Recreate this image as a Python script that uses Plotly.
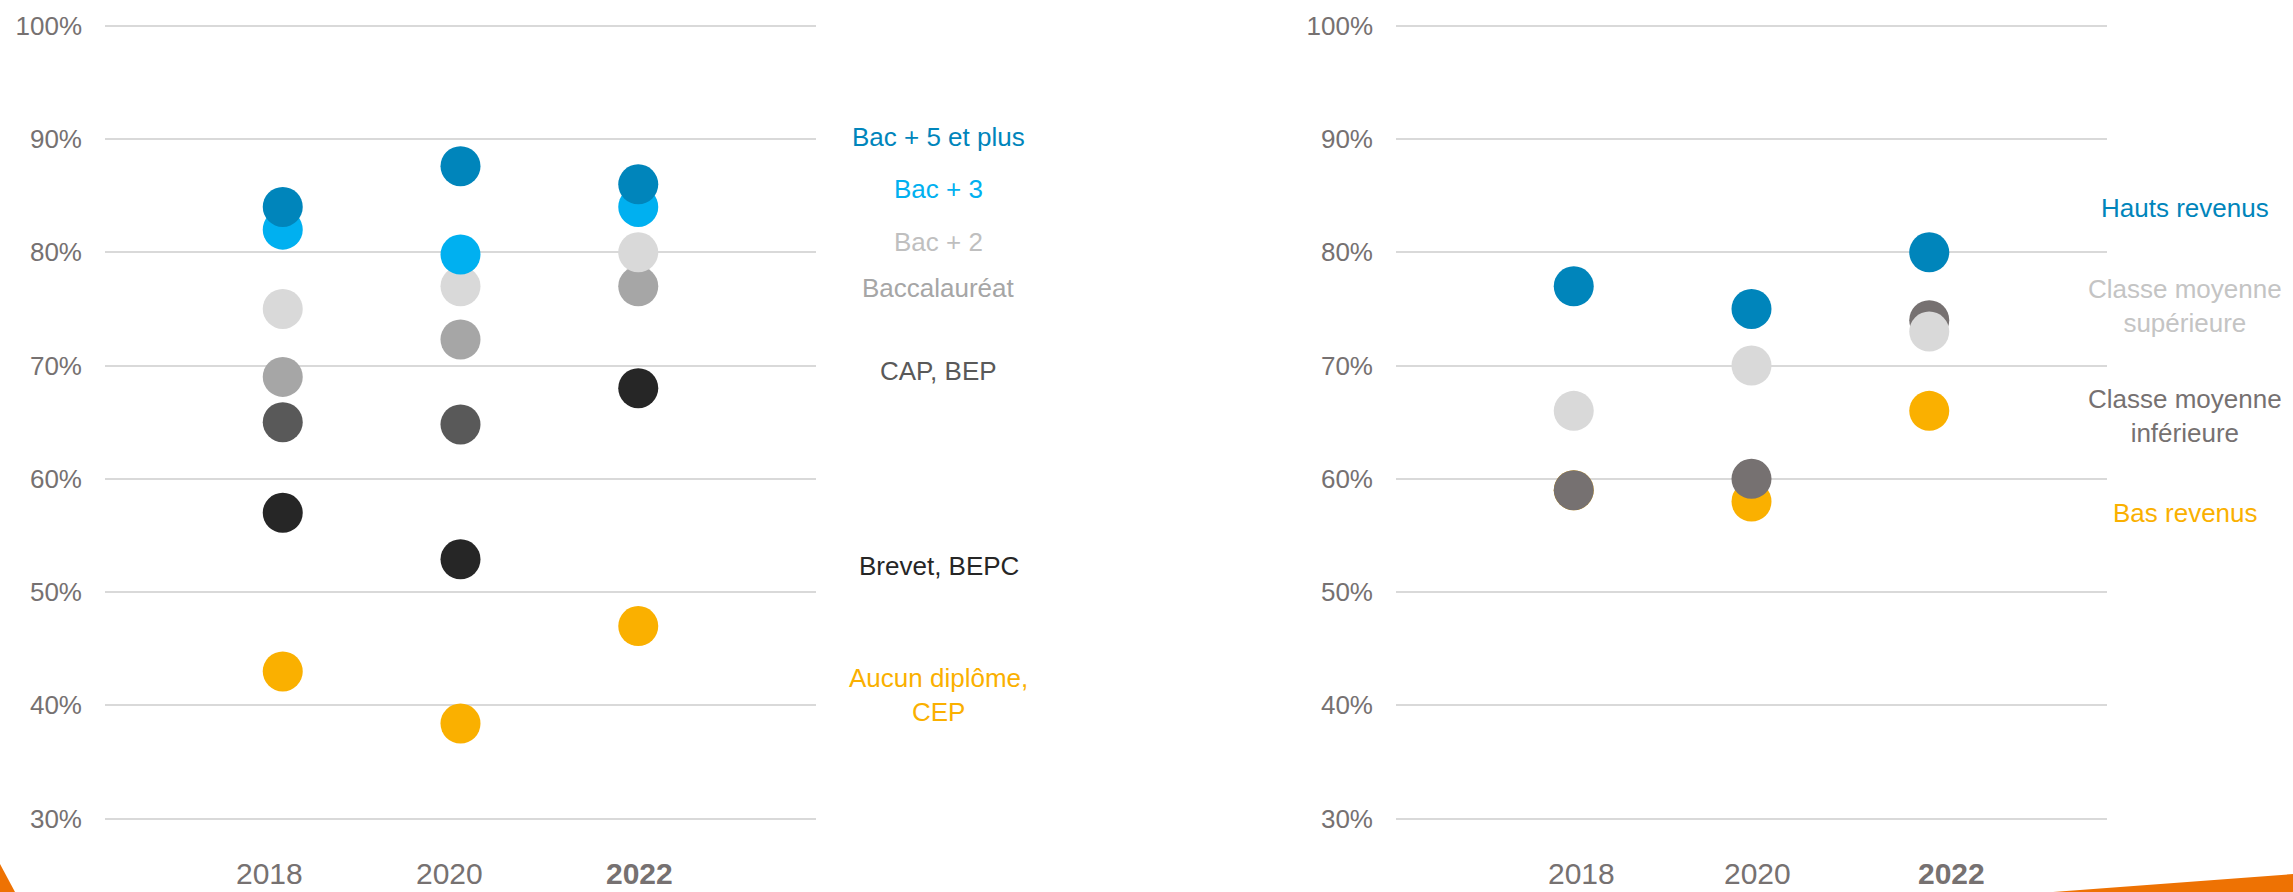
import plotly.graph_objects as go

# ---------------- data ----------------
years = ["2018", "2020", "2022"]

# Left panel: by diploma
diplome_labels = ["Bac + 5 et plus", "Bac + 3", "Bac + 2", "Baccalauréat",
                  "CAP, BEP", "Brevet, BEPC", "Aucun diplôme,<br>CEP"]
bac5 = [84.0, 87.6, 86.0]
bac3 = [82.0, 79.8, 84.0]
bac2 = [75.0, 77.0, 80.0]
baccalaureat = [69.0, 72.3, 77.0]
cap_bep = [65.0, 64.8, None]
brevet = [57.0, 52.9, 68.0]
aucun = [43.0, 38.4, 47.0]

# Right panel: by income
revenu_labels = ["Hauts revenus", "Classe moyenne<br>supérieure",
                 "Classe moyenne<br>inférieure", "Bas revenus"]
hauts = [77.0, 75.0, 80.0]
moy_sup = [66.0, 70.0, 73.0]
moy_inf = [59.0, 60.0, 74.0]
bas = [59.0, 58.0, 66.0]

y_ticks = [30, 40, 50, 60, 70, 80, 90, 100]
y_tick_text = ["30%", "40%", "50%", "60%", "70%", "80%", "90%", "100%"]

# ---------------- styles ----------------
W, H = 2293, 892
FONT = "Arial, Liberation Sans, sans-serif"
TICK_GREY = "#767171"
GRID = "#D9D9D9"

left_series = [bac5, bac3, bac2, baccalaureat, cap_bep, brevet, aucun]
left_colors = ["#0085BB", "#00B0F0", "#D9D9D9", "#A6A6A6", "#595959", "#262626", "#FAB000"]
left_text_colors = ["#0085BB", "#00B0F0", "#BFBFBF", "#A6A6A6", "#595959", "#262626", "#FAB000"]
left_label_y = [90.2, 85.6, 80.9, 76.85, 69.5, 52.35, 40.9]

right_series = [hauts, moy_sup, moy_inf, bas]
right_colors = ["#0085BB", "#D9D9D9", "#767171", "#FAB000"]
right_text_colors = ["#0085BB", "#C4C4C4", "#767171", "#FAB000"]
right_label_y = [83.9, 75.3, 65.55, 57.0]

def px_x(p):
    return p / W

def px_y(p):
    return 1 - p / H

fig = go.Figure()

# draw bottom series first so the upper categories sit on top
for vals, col in reversed(list(zip(left_series, left_colors))):
    fig.add_trace(go.Scatter(x=years, y=vals, mode="markers", xaxis="x", yaxis="y",
                             marker=dict(size=40, color=col, line=dict(width=0)),
                             showlegend=False, hoverinfo="y"))
for vals, col in reversed(list(zip(right_series, right_colors))):
    fig.add_trace(go.Scatter(x=years, y=vals, mode="markers", xaxis="x2", yaxis="y2",
                             marker=dict(size=40, color=col, line=dict(width=0)),
                             showlegend=False, hoverinfo="y"))

y_range = [29, 101]
y_dom = [px_y(830.0), px_y(14.4)]

axis_common_y = dict(range=y_range, domain=y_dom, tickmode="array", tickvals=y_ticks,
                     ticktext=y_tick_text, automargin=False,
                     showgrid=True, gridcolor=GRID, gridwidth=2, zeroline=False,
                     showline=False, ticks="", ticklabelstandoff=22,
                     tickfont=dict(family=FONT, size=26, color=TICK_GREY))
axis_common_x = dict(type="category", categoryorder="array", categoryarray=years,
                     range=[-1, 3], showgrid=False, zeroline=False, showline=False,
                     showticklabels=False, ticks="", automargin=False)

fig.update_layout(
    template="none",
    width=W, height=H,
    margin=dict(l=0, r=0, t=0, b=0, pad=0, autoexpand=False),
    paper_bgcolor="white", plot_bgcolor="white",
    showlegend=False,
    xaxis=dict(domain=[px_x(105), px_x(816)], anchor="y", **axis_common_x),
    yaxis=dict(anchor="x", **axis_common_y),
    xaxis2=dict(domain=[px_x(1396), px_x(2107)], anchor="y2", **axis_common_x),
    yaxis2=dict(anchor="x2", **axis_common_y),
)

annotations = []
# x-axis year labels (placed on the category axis by index)
left_shift = [-13, -11, 1]
right_shift = [8, 6, 22]
for ax, shifts in (("x", left_shift), ("x2", right_shift)):
    for i, (yr, sh) in enumerate(zip(years, shifts)):
        bold = yr == "2022"
        annotations.append(dict(
            x=i, xref=ax, y=px_y(873), yref="paper", xanchor="center", yanchor="middle",
            xshift=sh, showarrow=False,
            text=f"<b>{yr}</b>" if bold else yr,
            font=dict(family=FONT, size=30, color=TICK_GREY)))

# series labels
for lab, col, yy in zip(diplome_labels, left_text_colors, left_label_y):
    annotations.append(dict(x=px_x(939), xref="paper", y=yy, yref="y", xanchor="center",
                            yanchor="middle", showarrow=False, text=lab, align="center",
                            font=dict(family=FONT, size=26, color=col)))
for lab, col, yy in zip(revenu_labels, right_text_colors, right_label_y):
    annotations.append(dict(x=px_x(2185), xref="paper", y=yy, yref="y2", xanchor="center",
                            yanchor="middle", showarrow=False, text=lab, align="center",
                            font=dict(family=FONT, size=26, color=col)))
fig.update_layout(annotations=annotations)

# decorative orange corners
ORANGE = "#EE7203"
fig.add_shape(type="path", xref="paper", yref="paper", line=dict(width=0), fillcolor=ORANGE,
              path=f"M 0 {px_y(864)} L {px_x(15)} {px_y(892)} L 0 {px_y(892)} Z")
fig.add_shape(type="path", xref="paper", yref="paper", line=dict(width=0), fillcolor=ORANGE,
              path=f"M {px_x(2053)} {px_y(892)} L 1 {px_y(874)} L 1 {px_y(892)} Z")

fig.write_html("out.html", config={"displayModeBar": False},
               post_script="document.body.style.margin='0';document.body.style.overflow='hidden';")
